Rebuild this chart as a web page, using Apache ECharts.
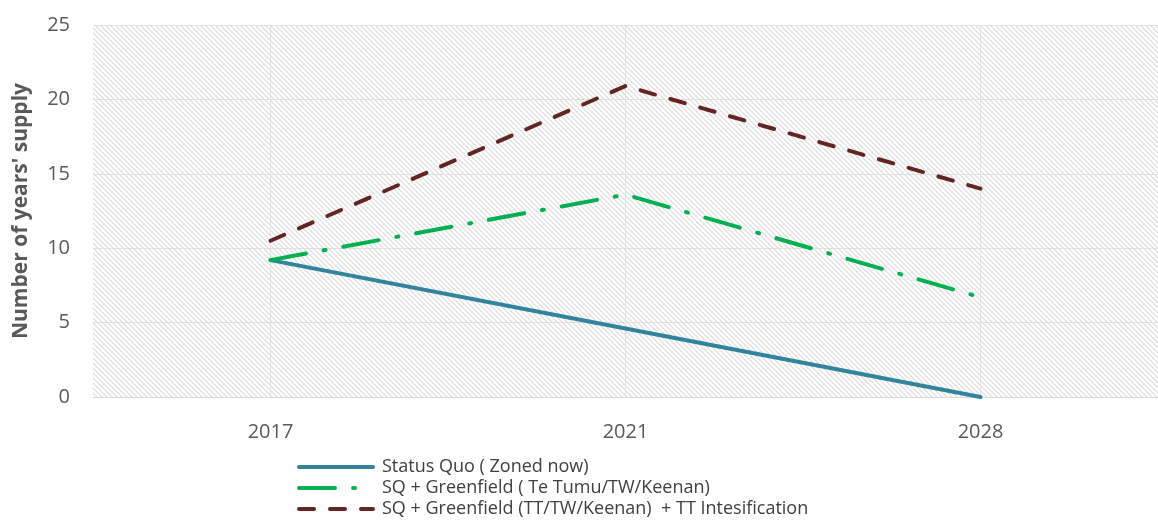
<!DOCTYPE html>
<html>
<head>
<meta charset="utf-8">
<script src="https://cdn.jsdelivr.net/npm/echarts@6/dist/echarts.min.js"></script>
<style>
  html, body { margin: 0; padding: 0; background: #fff; }
  #main { width: 1158px; height: 529px; }
</style>
</head>
<body>
<div id="main"></div>
<script>
const years = ['2017', '2021', '2028'];
const statusQuo = [9.2, 4.6, 0];
const sqGreenfield = [9.2, 13.6, 6.7];
const sqGreenfieldTT = [10.5, 20.9, 14.0];
const seriesNames = [
  'Status Quo ( Zoned now)',
  'SQ + Greenfield ( Te Tumu/TW/Keenan)',
  'SQ + Greenfield (TT/TW/Keenan)  + TT Intesification'
];

// hatched background for the plot area
function makeHatch() {
  const s = 5;
  const c = document.createElement('canvas');
  c.width = s;
  c.height = s;
  const ctx = c.getContext('2d');
  ctx.fillStyle = '#ffffff';
  ctx.fillRect(0, 0, s, s);
  ctx.strokeStyle = '#dcdcdc';
  ctx.lineWidth = 1.2;
  ctx.beginPath();
  ctx.moveTo(-1, -1); ctx.lineTo(s + 1, s + 1);
  ctx.moveTo(-s - 1, -1); ctx.lineTo(1, s + 1);
  ctx.moveTo(s - 1, -1); ctx.lineTo(2 * s + 1, s + 1);
  ctx.stroke();
  return c;
}

const chart = echarts.init(document.getElementById('main'));
const font = '"Open Sans", sans-serif';

const option = {
  animation: false,
  textStyle: { fontFamily: font },
  grid: {
    left: 93,
    right: -13,
    top: 25,
    bottom: 132,
    show: true,
    borderWidth: 0,
    backgroundColor: { image: makeHatch(), repeat: 'repeat' }
  },
  legend: {
    orient: 'vertical',
    left: 292,
    top: 453,
    itemWidth: 74,
    itemHeight: 12,
    itemGap: 3,
    itemStyle: { opacity: 0 },
    lineStyle: { width: 4, cap: 'round' },
    textStyle: { fontSize: 18, color: '#404040', fontFamily: font, padding: [0, 0, 0, 4] },
    data: seriesNames
  },
  xAxis: {
    type: 'category',
    data: years,
    boundaryGap: true,
    axisLine: { show: true, lineStyle: { color: '#d9d9d9', width: 1 } },
    axisTick: { show: false },
    axisLabel: { fontSize: 20, color: '#595959', margin: 25 },
    splitLine: { show: true, alignWithLabel: true, lineStyle: { color: '#e3e3e3', width: 1 } }
  },
  yAxis: {
    type: 'value',
    min: 0,
    max: 25,
    interval: 5,
    name: "Number of years' supply",
    nameLocation: 'middle',
    nameGap: 61,
    nameTextStyle: { fontSize: 21, fontWeight: 'bold', color: '#595959' },
    axisLine: { show: false },
    axisTick: { show: false },
    axisLabel: { fontSize: 20, color: '#595959', margin: 23 },
    splitLine: { lineStyle: { color: '#e0e0e0', width: 1 } }
  },
  series: [
    {
      name: seriesNames[0],
      type: 'line',
      symbol: 'none',
      data: statusQuo,
      lineStyle: { color: '#31849b', width: 4, cap: 'round' },
      itemStyle: { color: '#31849b' }
    },
    {
      name: seriesNames[1],
      type: 'line',
      symbol: 'none',
      data: sqGreenfield,
      lineStyle: { color: '#00b050', width: 4, type: [36, 18, 2, 18], cap: 'round' },
      itemStyle: { color: '#00b050' }
    },
    {
      name: seriesNames[2],
      type: 'line',
      symbol: 'none',
      data: sqGreenfieldTT,
      lineStyle: { color: '#632523', width: 4, type: [15, 16], cap: 'round' },
      itemStyle: { color: '#632523' }
    }
  ]
};

chart.setOption(option);
</script>
</body>
</html>
